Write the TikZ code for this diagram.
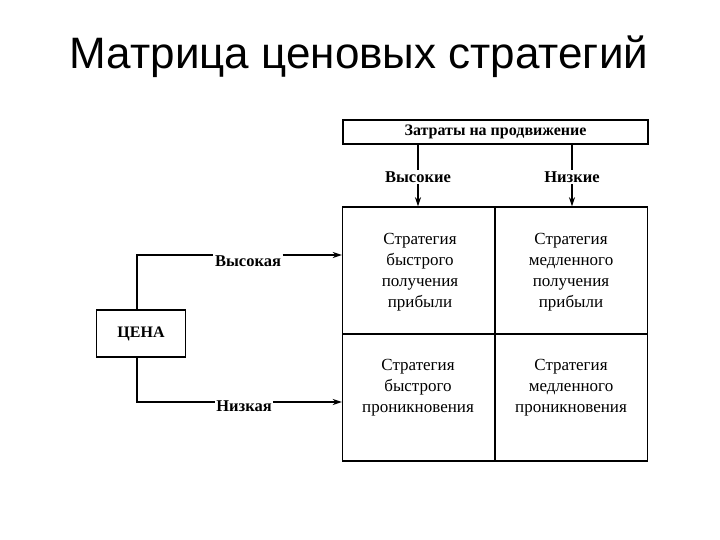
\documentclass[tikz,border=0pt]{standalone}
\usepackage{fontspec}
\setmainfont{Liberation Serif}
\newfontfamily\titlefont{Liberation Sans}
\usetikzlibrary{positioning,arrows.meta}
\begin{document}
\begin{tikzpicture}[x=1pt,y=-1pt,line width=1.4pt,>={Stealth[length=9pt,width=6pt]}]
            \tikzstyle{hdr box}=[draw,inner sep=0,minimum width=305pt,minimum height=24pt,font=\fontsize{16}{19}\selectfont\bfseries]
            \tikzstyle{lbl}=[inner sep=1pt,font=\fontsize{16.5}{19}\selectfont\bfseries]
            \tikzstyle{cell}=[draw,inner sep=0,minimum width=152.5pt,minimum height=127pt]
            \tikzstyle{cell text}=[align=center,inner sep=0,font=\fontsize{17}{21}\selectfont]
            \tikzstyle{price box}=[draw,inner sep=0,minimum width=89pt,minimum height=47pt,font=\fontsize{16}{19}\selectfont\bfseries]
            \useasboundingbox (0,0) rectangle (720,540);
            \node(title) at (359,57) {\titlefont\fontsize{44}{52}\selectfont Матрица ценовых стратегий};
            \node(cost)[hdr box] at (495.5,132) {Затраты на продвижение};
            \node(hiC)[lbl] at (418,177) {Высокие};
            \node(loC)[lbl] at (572,177) {Низкие};
            \node(c11)[cell] at (418.75,270.5) {};
            \node(c12)[cell] at (571.25,270.5) {};
            \node(c21)[cell] at (418.75,397.5) {};
            \node(c22)[cell] at (571.25,397.5) {};
            \node(t11)[cell text] at (420,272) {Стратегия\\быстрого\\получения\\прибыли};
            \node(t12)[cell text] at (571,272) {Стратегия\\медленного\\получения\\прибыли};
            \node(t21)[cell text] at (418,388) {Стратегия\\быстрого\\проникновения};
            \node(t22)[cell text] at (571,388) {Стратегия\\медленного\\проникновения};
            \node(price)[price box] at (141,333.5) {ЦЕНА};
            \node(hiP)[lbl] at (248,261) {Высокая};
            \node(loP)[lbl] at (244,406) {Низкая};
            \draw (cost.south -| hiC.north) -- (hiC.north);
            \draw[->] (hiC.south) -- (hiC.south |- c11.north);
            \draw (cost.south -| loC.north) -- (loC.north);
            \draw[->] (loC.south) -- (loC.south |- c12.north);
            \draw ([xshift=-4pt]price.north) |- ([yshift=6pt]hiP.west);
            \draw[->] ([yshift=6pt]hiP.east) -- ([yshift=6pt]hiP.east -| c11.west);
            \draw ([xshift=-4pt]price.south) |- ([yshift=4pt]loP.west);
            \draw[->] ([yshift=4pt]loP.east) -- ([yshift=4pt]loP.east -| c21.west);
          \end{tikzpicture}
\end{document}
